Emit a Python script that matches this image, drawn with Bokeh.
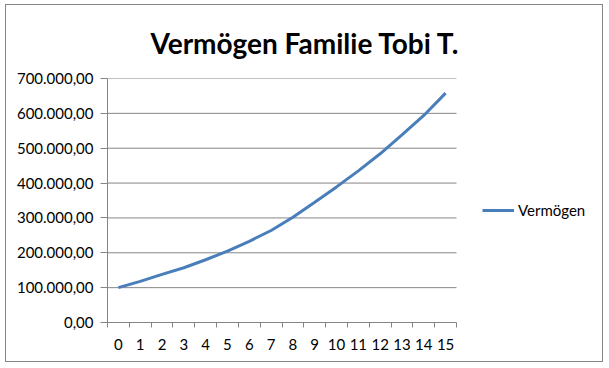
from bokeh.plotting import figure
from bokeh.models import FixedTicker, Legend, LegendItem, Range1d, ColumnDataSource
from bokeh.embed import file_html
from bokeh.resources import INLINE

# ---- data ----
jahre = list(range(16))
vermoegen = [100000, 118000, 138000, 157000, 180000, 205000, 233000, 264000,
             302000, 345000, 389000, 435000, 484000, 538000, 594000, 658000]
y_ticks = [0, 100000, 200000, 300000, 400000, 500000, 600000, 700000]
y_tick_labels = ["0,00", "100.000,00", "200.000,00", "300.000,00",
                 "400.000,00", "500.000,00", "600.000,00", "700.000,00"]
title_text = "Vermögen Familie Tobi T."
series_name = "Vermögen"

FONT = "Lato"
GRAY = "#868686"

# layout (pixels)
W, H = 598, 358
LEFT, TOP, BOTTOM = 101, 70, 41
AXIS_PX = 349                      # width of the category axis
x_lo = jahre[0] - 0.5
x_hi = jahre[-1] + 0.5
px_per_unit = AXIS_PX / (x_hi - x_lo)
frame_w = W - LEFT
x_end = x_lo + frame_w / px_per_unit

p = figure(width=W, height=H, output_backend="svg", toolbar_location=None,
           x_range=Range1d(x_lo, x_end), y_range=Range1d(0, 700000),
           min_border_left=LEFT, min_border_right=0,
           min_border_top=TOP, min_border_bottom=BOTTOM)
p.styles = {"border": "1px solid #868686", "margin-left": "5px", "margin-top": "4px"}
p.outline_line_color = None
p.background_fill_color = "white"
p.border_fill_color = "white"

p.title.text = title_text
p.title.text_font = FONT
p.title.text_font_size = "28px"
p.title.text_font_style = "bold"
p.title.text_color = "black"
p.title.align = "left"
p.title.offset = 43
p.title.standoff = 37

# horizontal gridlines limited to the plot area
p.segment(x0=[x_lo] * len(y_ticks), x1=[x_hi] * len(y_ticks), y0=y_ticks, y1=y_ticks,
          line_color=GRAY, line_width=1)

src = ColumnDataSource(dict(x=jahre, y=vermoegen))
r = p.line("x", "y", source=src, line_color="#4A7EBB", line_width=3)

# axes
p.xaxis.bounds = (x_lo, x_hi)
p.xaxis.ticker = FixedTicker(ticks=jahre, minor_ticks=[j - 0.5 for j in jahre] + [x_hi])
p.xaxis.major_tick_out = 0
p.xaxis.major_tick_in = 0
p.xaxis.minor_tick_out = 5
p.xaxis.minor_tick_in = 0
p.xaxis.minor_tick_line_color = GRAY
p.xaxis.axis_line_color = GRAY
p.xaxis.major_label_standoff = 11
p.xaxis.major_label_text_font = FONT
p.xaxis.major_label_text_font_size = "15px"
p.xaxis.major_label_text_color = "black"

p.yaxis.ticker = FixedTicker(ticks=y_ticks, minor_ticks=[])
p.yaxis.major_label_overrides = {t: l for t, l in zip(y_ticks, y_tick_labels)}
p.yaxis.major_tick_out = 7
p.yaxis.major_tick_in = 0
p.yaxis.major_tick_line_color = GRAY
p.yaxis.axis_line_color = GRAY
p.yaxis.minor_tick_line_color = None
p.yaxis.major_label_standoff = 7
p.yaxis.major_label_text_font = FONT
p.yaxis.major_label_text_font_size = "15px"
p.yaxis.major_label_text_color = "black"

p.xgrid.grid_line_color = None
p.ygrid.grid_line_color = None

legend = Legend(items=[LegendItem(label=series_name, renderers=[r])],
                location=(375, 102), padding=0, margin=0, border_line_color=None,
                background_fill_alpha=0, glyph_width=32, glyph_height=20,
                label_standoff=4, label_text_font=FONT, label_text_font_size="15px",
                label_text_color="black")
p.add_layout(legend, "center")

open("out.html", "w").write(file_html(p, INLINE))
